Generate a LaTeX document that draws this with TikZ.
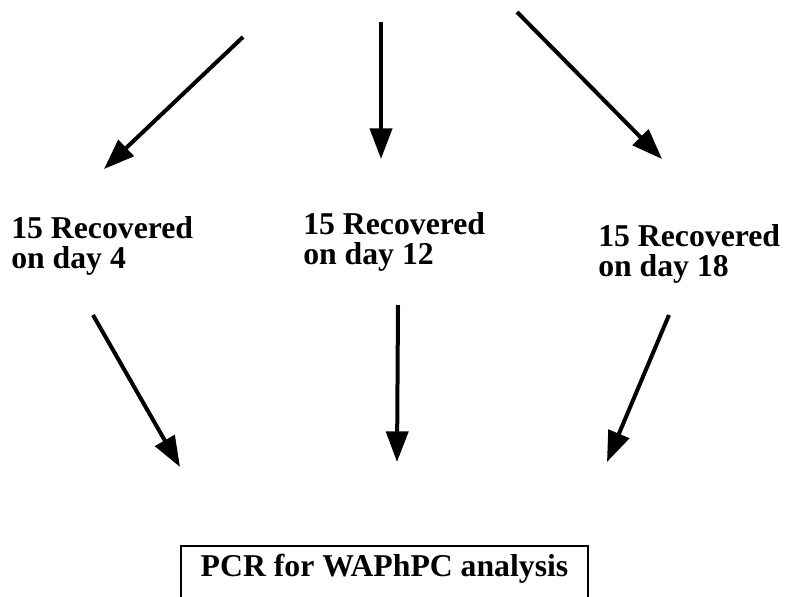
\documentclass[tikz,border=0pt]{standalone}
\usepackage{fontspec}
\setmainfont{Liberation Serif}
\usetikzlibrary{arrows.meta}

\begin{document}
\begin{tikzpicture}[x=0.75pt,y=-0.75pt,
		flow/.style={line width=3pt,-{Triangle[length=23pt,width=16.5pt]}},
		daytext/.style={anchor=north west,inner sep=0pt,align=left,font=\fontsize{23.8pt}{22.8pt}\selectfont\bfseries}]
			\useasboundingbox (0,0) rectangle (785,596);
			% start and end points of the arrows
			\coordinate (s1) at (243,37);
			\coordinate (s2) at (381,22);
			\coordinate (s3) at (517,12);
			\coordinate (t1) at (104,169);
			\coordinate (t2) at (381,159);
			\coordinate (t3) at (662,159);
			\coordinate (u1) at (93,315);
			\coordinate (u2) at (398,305);
			\coordinate (u3) at (669,315);
			\coordinate (v1) at (180,467);
			\coordinate (v2) at (397,462);
			\coordinate (v3) at (607,462);
			% groups
			\node[daytext] (d4) at (11,216) {15 Recovered\\on day 4};
			\node[daytext] (d12) at (303,212) {15 Recovered\\on day 12};
			\node[daytext] (d18) at (598,224) {15 Recovered\\on day 18};
			\node[draw,line width=1.5pt,anchor=north,minimum width=305pt,inner ysep=7.5pt,text height=15.5pt,text depth=40pt,font=\fontsize{23.8pt}{24pt}\selectfont\bfseries] (pcr) at (384.5,545) {PCR for WAPhPC analysis};
			% arrows
			\draw[flow] (s1) -- (t1);
			\draw[flow] (s2) -- (t2);
			\draw[flow] (s3) -- (t3);
			\draw[flow] (u1) -- (v1);
			\draw[flow] (u2) -- (v2);
			\draw[flow] (u3) -- (v3);
		\end{tikzpicture}
\end{document}
